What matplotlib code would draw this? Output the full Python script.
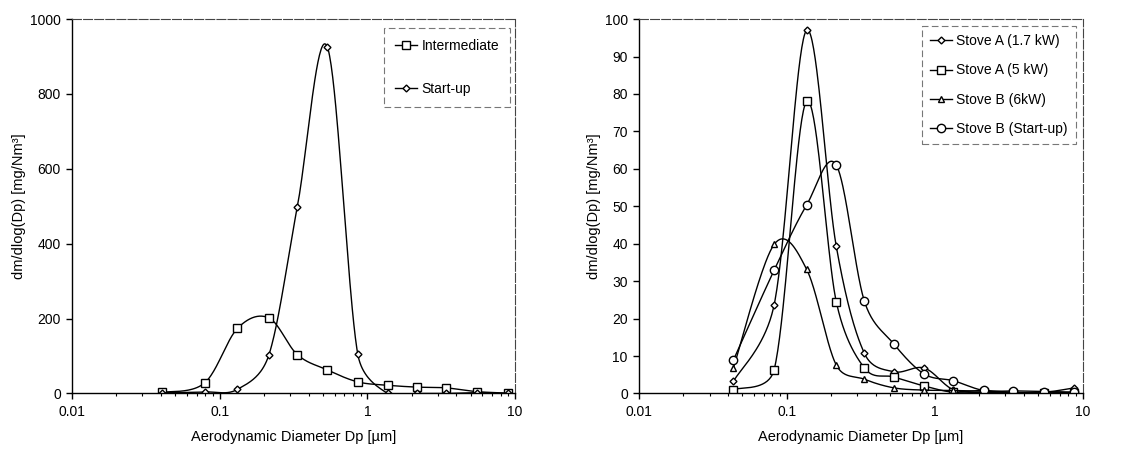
import numpy as np
import matplotlib
matplotlib.use("Agg")
import matplotlib.pyplot as plt
from matplotlib.lines import Line2D

plt.rcParams['font.family'] = ['Liberation Sans', 'DejaVu Sans']
plt.rcParams['font.size'] = 9.5

# ELPI stage diameters (um)
dp = [0.041, 0.079, 0.132, 0.215, 0.335, 0.535, 0.86, 1.37, 2.16, 3.4, 5.5, 8.9]
dp_r = [0.0435, 0.082, 0.136, 0.216, 0.335, 0.53, 0.85, 1.34, 2.14, 3.37, 5.45, 8.8]

# left panel
intermediate = [3, 28, 174, 202, 104, 63, 31, 22, 17, 15, 5, 1]
startup = [2, 4, 11, 102, 497, 926, 106, 0, 0, 0, 2, 0]

# right panel
stoveA_17 = [3.2, 23.6, 97, 39.3, 10.7, 5.8, 6.8, 1.0, 0.8, 0.3, 0.3, 1.5]
stoveA_5 = [1.0, 6.3, 78, 24.5, 6.8, 4.4, 2.0, 0.3, 0.3, 0.2, 0.1, 0.2]
stoveB_6 = [6.8, 39.8, 33.2, 7.6, 3.8, 1.5, 0.9, 0.8, 0.6, 0.2, 0.2, 0.2]
stoveB_su = [8.9, 32.9, 50.3, 61, 24.6, 13.2, 5.2, 3.4, 0.8, 0.7, 0.5, 0.4]


def smooth(ax, x, y, n=40):
    # excel style smoothed line, worked out in pixel space
    fig = ax.figure
    pos = ax.get_position()
    W, H = fig.get_size_inches() * fig.dpi
    x0, x1 = np.log10(ax.get_xlim())
    y0, y1 = ax.get_ylim()
    kx = W * pos.width / (x1 - x0)
    ky = H * pos.height / (y1 - y0)
    pts = np.column_stack([np.log10(x) * kx, np.asarray(y, float) * ky])
    P = np.vstack([pts[0], pts, pts[-1]])
    out = []
    t = np.linspace(0, 1, n)[:, None]
    for i in range(1, len(P) - 2):
        p0, p1, p2, p3 = P[i - 1], P[i], P[i + 1], P[i + 2]
        d12 = np.hypot(*(p2 - p1))
        d02 = np.hypot(*(p2 - p0))
        d13 = np.hypot(*(p3 - p1))
        f1 = 1 / 6 if d02 / 6 < d12 / 2 or d02 == 0 else d12 / 2 / d02
        f2 = 1 / 6 if d13 / 6 < d12 / 2 or d13 == 0 else d12 / 2 / d13
        b1 = p1 + (p2 - p0) * f1
        b2 = p2 - (p3 - p1) * f2
        seg = ((1 - t) ** 3) * p1 + 3 * ((1 - t) ** 2) * t * b1 + 3 * (1 - t) * t ** 2 * b2 + t ** 3 * p2
        out.append(seg)
    out = np.vstack(out)
    return 10 ** (out[:, 0] / kx), out[:, 1] / ky


def draw(ax, x, y, marker, ms, label):
    sx, sy = smooth(ax, x, y)
    ax.plot(sx, sy, color='black', lw=1.0)
    ax.plot(x, y, ls='none', marker=marker, ms=ms, mfc='white', mec='black', mew=1.0)
    return Line2D([], [], color='black', lw=1.0, marker=marker, ms=ms, mfc='white', mec='black', mew=1.0, label=label)


fig = plt.figure(figsize=(11.39, 4.5), dpi=100)
ax1 = fig.add_axes([0.0632, 0.1256, 0.389, 0.832])
ax2 = fig.add_axes([0.561, 0.1256, 0.3894, 0.832])

for ax, ymax, step in [(ax1, 1000, 200), (ax2, 100, 10)]:
    ax.set_xscale('log')
    ax.set_xlim(0.01, 10)
    ax.set_ylim(0, ymax)
    ax.set_yticks(np.arange(0, ymax + 1, step))
    ax.set_xticks([0.01, 0.1, 1, 10])
    ax.set_xticklabels(['0.01', '0.1', '1', '10'])
    ax.tick_params(direction='out', length=4, width=1, pad=4, labelsize=10)
    ax.tick_params(which='minor', direction='out', length=2.5, width=0.8)
    for s in ax.spines.values():
        s.set_linewidth(1.0)
    for s in ['top', 'right']:
        ax.spines[s].set_color('#444444')
        ax.spines[s].set_linewidth(0.8)
        ax.spines[s].set_linestyle((0, (8, 2)))
    ax.set_xlabel('Aerodynamic Diameter Dp [µm]', labelpad=8, fontsize=10.5)
    ax.set_ylabel('dm/dlog(Dp) [mg/Nm³]', labelpad=3, fontsize=10.5)

h1 = [draw(ax1, dp, intermediate, 's', 6, 'Intermediate'),
      draw(ax1, dp, startup, 'D', 3.5, 'Start-up')]

h2 = [draw(ax2, dp_r, stoveA_17, 'D', 3.5, 'Stove A (1.7 kW)'),
      draw(ax2, dp_r, stoveA_5, 's', 6, 'Stove A (5 kW)'),
      draw(ax2, dp_r, stoveB_6, '^', 5, 'Stove B (6kW)'),
      draw(ax2, dp_r, stoveB_su, 'o', 6, 'Stove B (Start-up)')]

leg1 = ax1.legend(handles=h1, loc='upper right', bbox_to_anchor=(0.989, 0.976), frameon=True,
                  fancybox=False, labelspacing=2.1, handlelength=1.6, handletextpad=0.3,
                  borderpad=0.8, borderaxespad=0, fontsize=10)
leg2 = ax2.legend(handles=h2, loc='upper right', bbox_to_anchor=(0.986, 0.982), frameon=True,
                  fancybox=False, labelspacing=1.1, handlelength=1.6, handletextpad=0.3,
                  borderpad=0.6, borderaxespad=0, fontsize=10)
for leg in [leg1, leg2]:
    fr = leg.get_frame()
    fr.set_edgecolor('#555555')
    fr.set_linewidth(0.8)
    fr.set_linestyle((0, (6, 3)))

fig.savefig('out.png', dpi=100)
